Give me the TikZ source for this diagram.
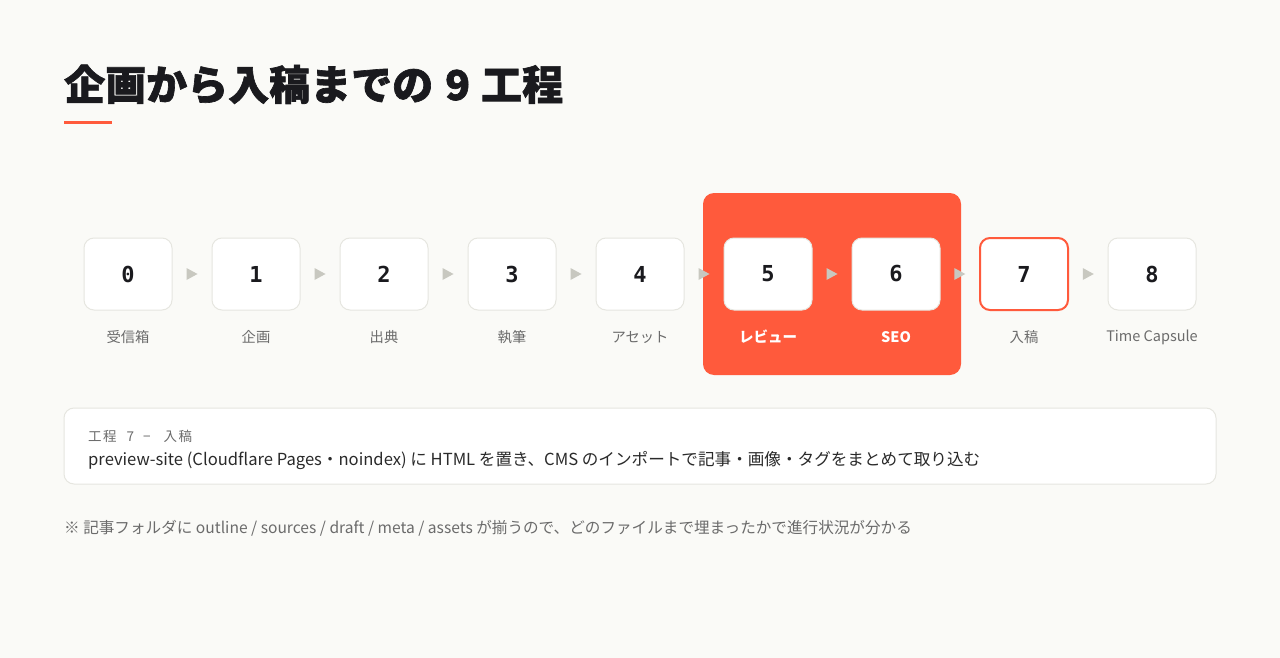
\documentclass[tikz,border=0pt]{standalone}
\usepackage{fontspec}
\setmainfont{Noto Sans CJK JP}
\newfontfamily\titlef[BoldFeatures={FakeBold=1.6}]{Noto Sans CJK JP}
\newfontfamily\monof{DejaVu Sans Mono}
\usetikzlibrary{calc}
\definecolor{bg}{HTML}{FAFAF7}
\definecolor{accent}{HTML}{FF5A3C}
\definecolor{ink}{HTML}{1A1A1E}
\definecolor{boxline}{HTML}{E6E6E0}
\definecolor{lblgray}{HTML}{6B6B6B}
\definecolor{arrowc}{HTML}{C8C8C0}
\definecolor{bodyink}{HTML}{2A2A2A}
\tikzset{
  stepbox/.style={draw=boxline, fill=white, rounded corners=10pt, line width=1pt,
    minimum width=88pt, minimum height=72pt, inner sep=0pt,
    font=\monof\bfseries\fontsize{22}{24}\selectfont, text=ink},
  curbox/.style={stepbox, draw=accent, line width=2pt},
  lbl/.style={inner sep=0pt, font=\fontsize{14.3}{16}\selectfont, text=lblgray},
  lblw/.style={lbl, text=white, font=\fontsize{14.5}{16}\selectfont\bfseries},
  tri/.style={fill=arrowc}
}
\begin{document}
\begin{tikzpicture}[x=1pt,y=-1pt]
\useasboundingbox[fill=bg] (0,0) rectangle (1280,658);
% title
\node[anchor=base west, inner sep=0pt, font=\titlef\fontsize{41}{44}\selectfont\bfseries, text=ink] (title) at (64,100) {企画から入稿までの\hspace{12pt}9\hspace{11pt}工程};
\fill[accent] (64,121.5) rectangle (112,124.5);
% highlight group
\node[fill=accent, rounded corners=11pt, minimum width=258pt, minimum height=182pt, inner sep=0pt] (grp) at (832,284) {};
% step boxes
\node[stepbox] (b0) at (128,274) {0};
\node[stepbox] (b1) at (256,274) {1};
\node[stepbox] (b2) at (384,274) {2};
\node[stepbox] (b3) at (512,274) {3};
\node[stepbox] (b4) at (640,274) {4};
\node[stepbox] (b5) at (768,274) {5};
\node[stepbox] (b6) at (896,274) {6};
\node[curbox]  (b7) at (1024,274) {7};
\node[stepbox] (b8) at (1152,274) {8};
% labels
\node[lbl]  (l0) at (128,337) {受信箱};
\node[lbl]  (l1) at (256,337) {企画};
\node[lbl]  (l2) at (384,337) {出典};
\node[lbl]  (l3) at (512,337) {執筆};
\node[lbl]  (l4) at (640,337) {アセット};
\node[lblw] (l5) at (768,337) {レビュー};
\node[lblw] (l6) at (896,337) {SEO};
\node[lbl]  (l7) at (1024,337) {入稿};
\node[lbl, font=\fontsize{14.5}{16}\selectfont] (l8) at (1152,337) {Time Capsule};
% arrows
\foreach \i/\j in {0/1,1/2,2/3,3/4,4/5,5/6,6/7,7/8}{
  \path (b\i) -- coordinate[pos=0.5] (m\i) (b\j);
  \fill[tri] ($(m\i)+(-5.5,-6)$) -- ($(m\i)+(5.5,0)$) -- ($(m\i)+(-5.5,6)$) -- cycle;
}
% info box
\node[draw=boxline, fill=white, rounded corners=10pt, line width=1pt, minimum width=1152pt, minimum height=76pt, inner sep=0pt] (info) at (640,446) {};
\node[anchor=base west, inner sep=0pt, font=\fontsize{13.5}{15}\selectfont, text=lblgray] (ihead) at (88,441) {工\hspace{1.5pt}程\hspace{10pt}7\hspace{9pt}−\hspace{13pt}入\hspace{1.5pt}稿};
\node[anchor=base west, inner sep=0pt, font=\fontsize{16.6}{20}\selectfont, text=bodyink] (ibody) at (88,465) {preview-site (Cloudflare Pages・noindex) に HTML を置き、CMS のインポートで記事・画像・タグをまとめて取り込む};
% footnote
\node[anchor=base west, inner sep=0pt, font=\fontsize{15.6}{18}\selectfont, text=lblgray] (note) at (64,533) {※ 記事フォルダに outline / sources / draft / meta / assets が揃うので、どのファイルまで埋まったかで進行状況が分かる};
\end{tikzpicture}
\end{document}
